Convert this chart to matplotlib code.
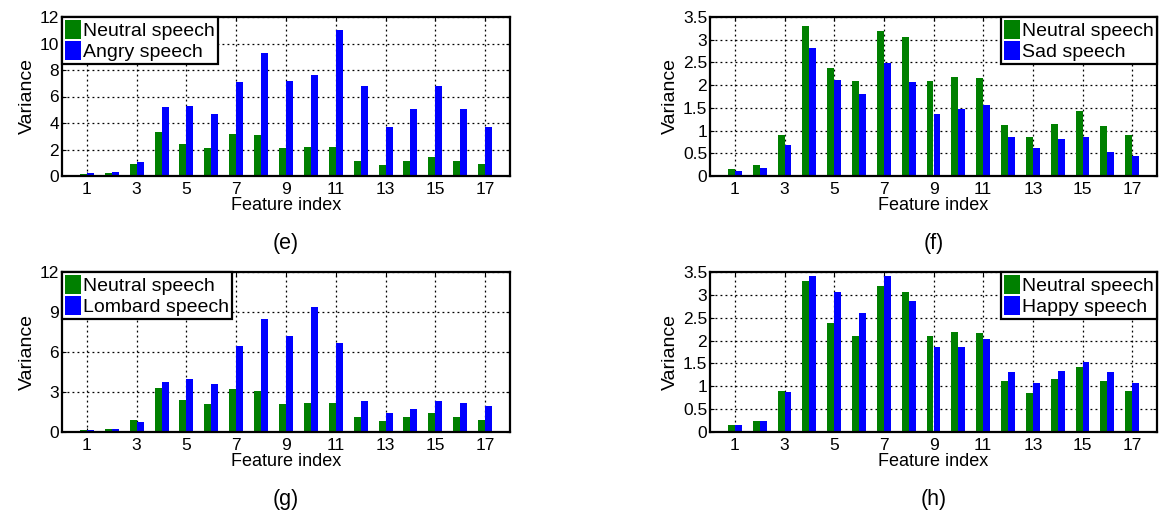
import matplotlib
matplotlib.use('Agg')
import matplotlib.pyplot as plt
import numpy as np

plt.rcParams['font.family'] = ['Liberation Sans', 'DejaVu Sans']

# 数据：方差值
features = np.arange(1, 18)
neutral = [0.15, 0.24, 0.90, 3.31, 2.38, 2.10, 3.20, 3.07, 2.10, 2.19, 2.16,
           1.12, 0.86, 1.15, 1.42, 1.11, 0.90]
angry = [0.23, 0.33, 1.06, 5.22, 5.32, 4.69, 7.06, 9.30, 7.18, 7.64, 11.04,
         6.83, 3.73, 5.07, 6.81, 5.09, 3.71]
sad = [0.12, 0.18, 0.68, 2.81, 2.12, 1.81, 2.48, 2.07, 1.36, 1.48, 1.57,
       0.86, 0.625, 0.81, 0.85, 0.53, 0.43]
lombard = [0.15, 0.22, 0.75, 3.72, 3.94, 3.59, 6.43, 8.49, 7.23, 9.35, 6.68,
           2.36, 1.46, 1.76, 2.34, 2.16, 1.93]
happy = [0.15, 0.24, 0.88, 3.41, 3.07, 2.60, 3.41, 2.86, 1.85, 1.87, 2.03,
         1.32, 1.07, 1.33, 1.54, 1.32, 1.07]

xticks = [1, 3, 5, 7, 9, 11, 13, 15, 17]
yticks_e = [0, 2, 4, 6, 8, 10, 12]
yticks_g = [0, 3, 6, 9, 12]
yticks_small = [0, 0.5, 1, 1.5, 2, 2.5, 3, 3.5]
ytick_small_labels = ['0', '0.5', '1', '1.5', '2', '2.5', '3', '3.5']

fig = plt.figure(figsize=(11.61, 5.19), dpi=100)

W, H = 1161, 519
bw = 0.28


def panel(rect_px, emo, emo_name, yticks, yticklabels, ymax, loc, tag, tag_y):
    l, t, r, b = rect_px
    ax = fig.add_axes([l / W, 1 - b / H, (r - l) / W, (b - t) / H])
    ax.set_axisbelow(True)
    ax.bar(features - bw / 2, neutral, width=bw, color='#008000',
           label='Neutral speech', linewidth=0)
    ax.bar(features + bw / 2, emo, width=bw, color='#0000ff',
           label=emo_name, linewidth=0)
    ax.set_xlim(0, 18)
    ax.set_ylim(0, ymax)
    ax.set_xticks(xticks)
    ax.set_yticks(yticks)
    ax.set_yticklabels(yticklabels)
    ax.grid(True, color='black', linestyle=(0, (1.5, 2.5)), linewidth=0.9)
    ax.tick_params(direction='in', length=3, labelsize=12.5, pad=4,
                   top=True, right=True)
    ax.tick_params(axis='y', pad=2)
    for s in ax.spines.values():
        s.set_linewidth(1.6)
    ax.set_xlabel('Feature index', fontsize=13, labelpad=0)
    ax.set_ylabel('Variance', fontsize=14, labelpad=3)
    leg = ax.legend(loc=loc, borderaxespad=0, fontsize=14, frameon=True,
                    fancybox=False, handlelength=0.85, handleheight=1.1,
                    handletextpad=0.1, labelspacing=0.05, borderpad=0.15)
    leg.get_frame().set_edgecolor('black')
    leg.get_frame().set_linewidth(1.6)
    leg.get_frame().set_alpha(1)
    fig.text((l + r) / 2 / W, 1 - tag_y / H, tag, ha='center', va='center',
             fontsize=15.5)
    return ax


panel((62, 17, 510, 176), angry, 'Angry speech', yticks_e,
      [str(v) for v in yticks_e], 12, 'upper left', '(e)', 243)
panel((710, 17, 1157, 176), sad, 'Sad speech', yticks_small,
      ytick_small_labels, 3.5, 'upper right', '(f)', 243)
panel((62, 272, 510, 432), lombard, 'Lombard speech', yticks_g,
      [str(v) for v in yticks_g], 12, 'upper left', '(g)', 500)
panel((710, 272, 1157, 432), happy, 'Happy speech', yticks_small,
      ytick_small_labels, 3.5, 'upper right', '(h)', 500)

fig.savefig('out.png', dpi=100)
